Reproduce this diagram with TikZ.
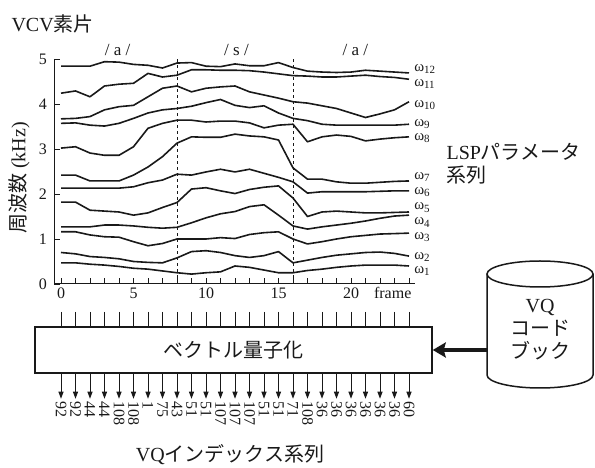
\documentclass[tikz,border=0pt]{standalone}
\usepackage{fontspec}
\setmainfont{Liberation Serif}
\newfontfamily\jp{Noto Sans CJK JP}
\usepackage{tikz}
\usetikzlibrary{arrows.meta,positioning}
\definecolor{cInk}{RGB}{25,25,25}

\begin{document}
\begin{tikzpicture}[x=1pt,y=1pt,
  big/.style={font=\rmfamily\fontsize{20}{23}\selectfont,cInk},
  mid/.style={font=\rmfamily\fontsize{16}{18}\selectfont,cInk},
  lsp/.style={line width=1.6pt,line join=round,cInk}]
  \useasboundingbox (0,0) rectangle (595,468);
  \node[big,anchor=west] (title) at (8,444) {VCV{\jp 素片}};
  \node[big,rotate=90] (ylab) at (19,290) {{\jp 周波数} (kHz)};
  \node[big,anchor=west,align=left] (lspl) at (443,304) {LSP{\jp パラメータ}\\{\jp 系列}};
  \begin{scope}[shift={(61,184)},x=14.5pt,y=45pt]
    \draw[line width=1pt,cInk] (-0.45,5) -- (-0.45,0) -- (24.4,0);
    \foreach \v in {0,...,5} {
      \draw[line width=0.8pt,cInk] (-0.45,\v) -- ++(6pt,0);
      \node[mid,anchor=east] (y\v) at ([xshift=-4pt]-0.45,\v) {\v};
    }
    \foreach \f in {0,...,24} \draw[line width=0.8pt,cInk] (\f,0) -- ++(0,6pt);
    \foreach \f in {0,5,10,15,20} \node[mid,below=0pt] (x\f) at (\f,0) {\f};
    \node[mid,anchor=base west] (frm) at ([xshift=8pt]x20.base east) {frame};
    \foreach \f in {8,16} \draw[dashed,line width=0.6pt,cInk] (\f,0) -- (\f,5);
    \foreach \f/\p/\n in {3.9/a/pa,12.1/s/ps,20.3/a/pb} \node[mid,font=\rmfamily\fontsize{17}{19}\selectfont] (\n) at (\f,5.2) {/ \p\ /};
    \draw[lsp] (0,.47) \foreach[count=\i] \v in {.47,.44,.42,.39,.35,.33,.29,.25,.22,.25,.27,.40,.37,.31,.25,.25,.30,.33,.37,.40,.42,.42,.42,.40} {-- (\i,\v)};
    \draw[lsp] (0,.70) \foreach[count=\i] \v in {.67,.61,.59,.56,.50,.48,.47,.58,.72,.74,.70,.63,.59,.63,.72,.47,.53,.59,.64,.67,.70,.71,.68,.62} {-- (\i,\v)};
    \draw[lsp] (0,1.16) \foreach[count=\i] \v in {1.16,1.09,1.05,1.04,.94,.85,.90,1.00,1.00,1.00,1.03,1.01,1.10,1.14,1.16,1.00,.89,.94,1.00,1.05,1.08,1.11,1.12,1.13} {-- (\i,\v)};
    \draw[lsp] (0,1.27) \foreach[count=\i] \v in {1.27,1.27,1.31,1.31,1.29,1.26,1.24,1.26,1.36,1.47,1.56,1.61,1.72,1.76,1.53,1.29,1.22,1.27,1.31,1.35,1.40,1.46,1.51,1.53} {-- (\i,\v)};
    \draw[lsp] (0,1.82) \foreach[count=\i] \v in {1.82,1.64,1.62,1.60,1.53,1.58,1.70,1.81,2.11,2.14,2.07,2.01,2.10,2.15,2.18,1.91,1.50,1.60,1.62,1.60,1.58,1.58,1.59,1.60} {-- (\i,\v)};
    \draw[lsp] (0,2.13) \foreach[count=\i] \v in {2.13,2.13,2.13,2.13,2.16,2.25,2.31,2.44,2.42,2.49,2.55,2.49,2.55,2.46,2.37,2.27,2.02,2.05,2.05,2.05,2.05,2.06,2.07,2.07} {-- (\i,\v)};
    \draw[lsp] (0,2.42) \foreach[count=\i] \v in {2.42,2.29,2.29,2.29,2.42,2.60,2.83,3.13,3.27,3.26,3.26,3.33,3.29,3.27,3.20,2.58,2.33,2.33,2.27,2.24,2.24,2.26,2.28,2.29} {-- (\i,\v)};
    \draw[lsp] (0,3.02) \foreach[count=\i] \v in {3.05,2.91,2.86,2.86,3.05,3.46,3.57,3.64,3.64,3.60,3.62,3.62,3.58,3.47,3.53,3.55,3.16,3.27,3.31,3.28,3.18,3.22,3.25,3.27} {-- (\i,\v)};
    \draw[lsp] (0,3.57) \foreach[count=\i] \v in {3.58,3.53,3.51,3.57,3.68,3.80,3.87,3.90,3.95,4.03,4.10,3.97,3.92,3.96,3.80,3.68,3.63,3.55,3.53,3.53,3.53,3.53,3.53,3.55} {-- (\i,\v)};
    \draw[lsp] (0,3.67) \foreach[count=\i] \v in {3.68,3.72,3.87,3.94,3.97,4.16,4.35,4.40,4.27,4.35,4.38,4.40,4.27,4.20,4.13,4.05,4.02,3.96,3.90,3.80,3.70,3.78,3.87,4.05} {-- (\i,\v)};
    \draw[lsp] (0,4.24) \foreach[count=\i] \v in {4.29,4.16,4.40,4.44,4.46,4.68,4.60,4.64,4.76,4.76,4.75,4.75,4.74,4.71,4.67,4.63,4.62,4.60,4.60,4.62,4.64,4.61,4.59,4.55} {-- (\i,\v)};
    \draw[lsp] (0,4.84) \foreach[count=\i] \v in {4.84,4.84,4.94,4.93,4.88,4.86,4.80,4.91,4.92,4.84,4.83,4.89,4.85,4.85,4.92,4.81,4.73,4.71,4.70,4.71,4.75,4.73,4.71,4.69} {-- (\i,\v)};
    \foreach \k/\y in {1/0.29,2/0.60,3/1.04,4/1.37,5/1.70,6/2.04,7/2.38,8/3.24,9/3.56,10/3.98,11/4.45,12/4.78}
      \node[mid,font=\rmfamily\fontsize{15}{15}\selectfont,anchor=west,inner sep=0pt] (w\k) at (24.35,\y) {ω\raisebox{-2.5pt}{\fontsize{11}{11}\selectfont\k}};
  \end{scope}
  \node[draw,line width=1.5pt,cInk,minimum width=397pt,minimum height=46pt,big] (vq) at (233.5,118) {{\jp ベクトル量子化}};
  \foreach[count=\f from 0] \n in {92,92,44,44,108,108,1,75,43,51,51,107,107,107,51,51,71,108,36,36,36,36,36,36,60} {
    \coordinate (t\f) at ({61+14.5*\f},156);
    \draw[line width=1pt,cInk] (t\f) -- (t\f |- vq.north);
    \draw[line width=1pt,cInk,-{Triangle[length=7pt,width=5pt]}] (t\f |- vq.south) -- ++(0,-25) coordinate (b\f);
    \node[mid,rotate=-90,anchor=west,inner sep=1pt] (n\f) at ([yshift=-2pt]b\f) {\n};
  }
  \node[big] (vqidx) at (230,13) {VQ{\jp インデックス系列}};
  \draw[line width=1.5pt,cInk,fill=white] (487,194) -- (487,93) arc[start angle=180,end angle=360,x radius=53,y radius=13] -- (593,194);
  \draw[line width=1.5pt,cInk] (540,194) ellipse[x radius=53,y radius=13];
  \node[big,align=center] (cb) at (540,138) {VQ\\{\jp コード}\\{\jp ブック}};
  \coordinate (bk) at (487,118);
  \draw[line width=4.5pt,cInk,-{Stealth[length=13pt,width=15pt,inset=2pt]}] (bk) -- (vq.east);
\end{tikzpicture}
\end{document}
